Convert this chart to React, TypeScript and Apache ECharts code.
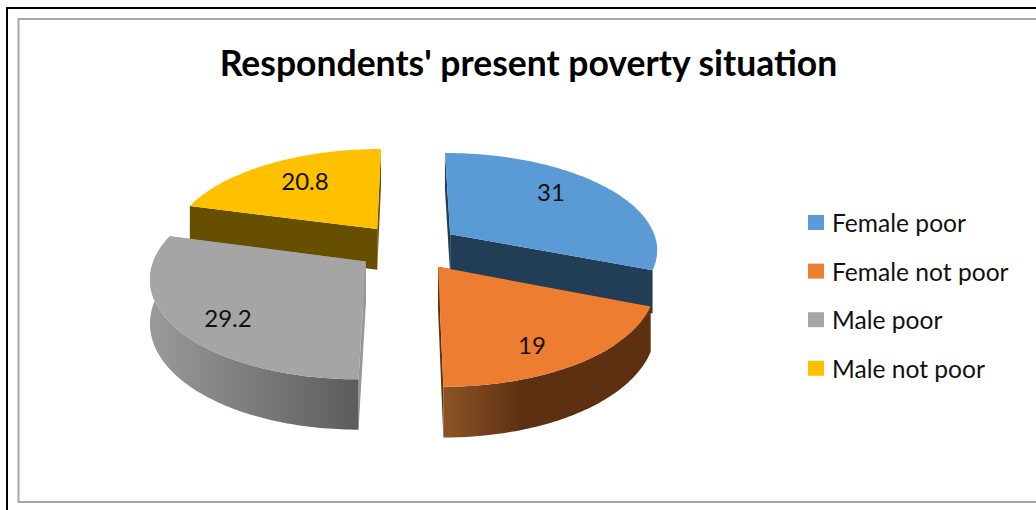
import React, { useEffect, useRef } from "react";
import * as echarts from "echarts";

const chartTitle = "Respondents' present poverty situation";
const categories = ["Female poor", "Female not poor", "Male poor", "Male not poor"];
const shares = [31, 19, 29.2, 20.8];

const topColors = ["#5B9BD5", "#ED7D31", "#A5A5A5", "#FFC000"];
const cutColors = ["#223D56", "#5E3113", "#969696", "#665000"];
// Rim shading runs left to right across the outer wall of the two front wedges.
const rimStops: ([number, string][] | null)[] = [
  null,
  [[0, "#8C5425"], [0.38, "#5E3012"], [1, "#5E3012"]],
  [[0, "#9A9A9A"], [1, "#5C5C5C"]],
  null,
];
// Painter's order: back wedges first, front wedges over them.
const paintOrder = [2, 4, 3, 1];
const labelCentres: [number, number][] = [[551, 191], [532, 344], [228, 317], [305, 180]];

// Projection of the tilted disc onto the page.
const centreX = 408;
const centreY = 247;
const radiusX = 208;
const radiusY = 215;
const tilt = 0.448;
const perspective = 0.00067;
const explode = 52;
const thickness = 42;

type Pt = [number, number];

function project(x: number, y: number, drop: number): Pt {
  const w = 1 + perspective * y;
  return [centreX + x / w, centreY + (-tilt * y + drop) / w];
}

function wedgeGeometry(startDeg: number, endDeg: number) {
  const mid = ((startDeg + endDeg) / 2) * (Math.PI / 180);
  const ox = explode * Math.sin(mid);
  const oy = explode * Math.cos(mid);
  const rim = (drop: number): Pt[] => {
    const pts: Pt[] = [];
    const steps = Math.ceil(endDeg - startDeg);
    for (let i = 0; i <= steps; i++) {
      const a = (startDeg + ((endDeg - startDeg) * i) / steps) * (Math.PI / 180);
      pts.push(project(ox + radiusX * Math.sin(a), oy + radiusY * Math.cos(a), drop));
    }
    return pts;
  };
  const apex = (drop: number) => project(ox, oy, drop);
  return { rim, apex };
}

function wedgeSeries(index: number) {
  const before = shares.slice(0, index).reduce((s, v) => s + v, 0);
  const total = shares.reduce((s, v) => s + v, 0);
  return {
    type: "custom",
    name: categories[index],
    coordinateSystem: "none",
    silent: true,
    z: paintOrder[index],
    itemStyle: { color: topColors[index] },
    data: [shares[index]],
    renderItem: (_params: unknown, api: { value: (d: number) => number }) => {
      const value = api.value(0);
      const startDeg = (before / total) * 360;
      const endDeg = ((before + value) / total) * 360;
      const { rim, apex } = wedgeGeometry(startDeg, endDeg);
      const topArc = rim(0);
      const lowArc = rim(thickness);
      const cutFill = cutColors[index];
      const last = topArc.length - 1;
      const stops = rimStops[index];
      const poly = (points: Pt[], fill: unknown) => ({
        type: "polygon",
        shape: { points },
        style: { fill, stroke: "none" },
      });
      const children: object[] = [
        poly([apex(0), topArc[0], lowArc[0], apex(thickness)], cutFill),
        poly([apex(0), topArc[last], lowArc[last], apex(thickness)], cutFill),
      ];
      if (stops) {
        children.push(
          poly(
            [...topArc, ...lowArc.slice().reverse()],
            new echarts.graphic.LinearGradient(
              0, 0, 1, 0,
              stops.map(([offset, color]) => ({ offset, color })),
            ),
          ),
        );
      }
      children.push(poly([apex(0), ...topArc], topColors[index]));
      children.push({
        type: "text",
        style: {
          text: String(value),
          x: labelCentres[index][0],
          y: labelCentres[index][1],
          align: "center",
          verticalAlign: "middle",
          font: "24px Lato",
          fill: "#111111",
        },
      });
      return { type: "group", children };
    },
  };
}

export default function App() {
  const ref = useRef<HTMLDivElement>(null);

  useEffect(() => {
    document.body.style.margin = "0";
    const chart = echarts.init(ref.current!, null, { renderer: "svg" });
    chart.setOption({
      animation: false,
      backgroundColor: "#FFFFFF",
      title: {
        text: chartTitle,
        left: 523.5,
        top: 39,
        textAlign: "center",
        textStyle: { fontFamily: "Lato", fontWeight: "bold", fontSize: 35.5, color: "#000000" },
      },
      legend: {
        orient: "vertical",
        left: 808,
        top: 208,
        padding: 0,
        icon: "rect",
        itemWidth: 16,
        itemHeight: 15,
        itemGap: 19.6,
        itemStyle: { borderWidth: 0 },
        selectedMode: false,
        data: categories,
        textStyle: { fontFamily: "Lato", fontSize: 24.6, color: "#111111", padding: [0, 0, 0, 3], lineHeight: 29 },
      },
      graphic: [
        {
          type: "rect",
          silent: true,
          shape: { x: 7, y: 8, width: 1040, height: 520 },
          style: { fill: "none", stroke: "#000000", lineWidth: 2 },
        },
        {
          type: "rect",
          silent: true,
          shape: { x: 18.5, y: 19, width: 1040, height: 483 },
          style: { fill: "none", stroke: "#A6A6A6", lineWidth: 2 },
        },
      ],
      series: categories.map((_, i) => wedgeSeries(i)),
    });
    return () => chart.dispose();
  }, []);

  return <div ref={ref} style={{ position: "absolute", left: 0, top: 0, width: 1036, height: 510 }} />;
}
